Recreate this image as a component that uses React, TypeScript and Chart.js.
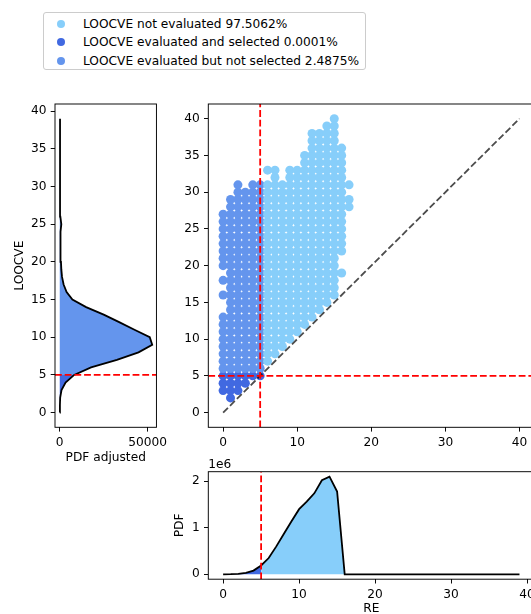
import React, { useEffect, useRef } from 'react';
import { Chart, registerables } from 'chart.js';

Chart.register(...registerables);

const FONT_FAMILY = "'DejaVu Sans', 'Liberation Sans', sans-serif";
const FONT_SIZE = 12.2;

// Colours
const C_NOT_EVAL = '#87CEFA';
const C_SELECTED = '#4169E1';
const C_EVAL = '#6495ED';
const C_THRESH = '#FF0000';
const C_DIAG = 'rgba(0,0,0,0.7)';

const LEGEND_LABELS = [
  'LOOCVE not evaluated 97.5062%',
  'LOOCVE evaluated and selected 0.0001%',
  'LOOCVE evaluated but not selected 2.4875%',
];
const LEGEND_COLORS = [C_NOT_EVAL, C_SELECTED, C_EVAL];

const THRESHOLD = 5;

// Left panel: adjusted PDF of LOOCVE
const LOOCVE_GRID = [
  0, 1, 2, 3, 4, 5, 6, 7, 8, 9, 10, 11, 12, 13, 14, 15, 16, 17, 18, 19,
  20, 21, 22, 23, 24, 25, 26, 27, 28, 29, 30, 31, 32, 33, 34, 35, 36, 37, 38, 39,
];
const PDF_ADJUSTED = [
  0, 100, 250, 1000, 3300, 8200, 17800, 32500, 44800, 52600,
  51200, 42500, 33800, 25000, 15000, 7200, 3900, 2200, 1300, 900,
  700, 550, 450, 400, 350, 900, 350, 250, 200, 200,
  180, 180, 160, 160, 150, 150, 150, 150, 150, 150,
];

// Bottom panel: PDF of RE
const RE_GRID = [
  0, 1, 2, 3, 4, 5, 6, 7, 8, 9, 10, 11, 12, 13, 14, 15, 16, 17, 18, 19,
  20, 21, 22, 23, 24, 25, 26, 27, 28, 29, 30, 31, 32, 33, 34, 35, 36, 37, 38, 39,
];
const RE_PDF = [
  0, 2000, 8000, 30000, 80000, 190000, 350000, 600000, 870000, 1140000,
  1400000, 1560000, 1740000, 2020000, 2100000, 1780000, 0, 0, 0, 0,
  0, 0, 0, 0, 0, 0, 0, 0, 0, 0,
  0, 0, 0, 0, 0, 0, 0, 0, 0, 0,
];

// Tick values
const LOOCVE_TICKS = [0, 5, 10, 15, 20, 25, 30, 35, 40];
const PDF_ADJ_TICKS = [0, 50000];
const RE_TICKS = [0, 10, 20, 30, 40];
const PDF_TICKS = [0, 1000000, 2000000];

// Scatter grid runs: [RE, LOOCVE from, LOOCVE to]
const SELECTED_RUNS = [
  [0, 3, 5], [1, 2, 5], [2, 3, 5], [3, 4, 5], [4, 5, 5], [5, 5, 5],
];
const EVAL_RUNS = [
  [0, 6, 13], [0, 16, 16], [0, 18, 18], [0, 20, 27],
  [1, 6, 29], [2, 6, 31], [3, 6, 30], [4, 6, 31], [5, 6, 31],
];
const NOT_EVAL_RUNS = [
  [6, 7, 31], [6, 33, 33], [7, 8, 33], [8, 9, 31], [9, 10, 33], [10, 11, 33],
  [11, 12, 35], [12, 13, 38], [13, 14, 38], [14, 15, 39], [15, 16, 40],
  [16, 19, 19], [16, 22, 36], [17, 28, 29], [17, 31, 31],
];

const DIAGONAL = [0, 40];

// Axis limits
const MAIN_LIM = [-2, 42];
const LEFT_Y_LIM = [-1.95, 40.95];
const LEFT_X_LIM = [-2700, 55000];
const BOTTOM_X_LIM = [-1.95, 40.95];
const BOTTOM_Y_LIM = [-105000, 2205000];

function expandRuns(runs: number[][]) {
  const pts: { x: number; y: number }[] = [];
  runs.forEach(([x, a, b]) => {
    for (let y = a; y <= b; y++) pts.push({ x, y });
  });
  return pts;
}

const font = { family: FONT_FAMILY, size: FONT_SIZE };

function axis(o: {
  min: number; max: number; ticks: number[]; size: number;
  fmt?: (v: number) => string; title?: string; titlePad?: any; position: string;
}) {
  return {
    type: 'linear',
    position: o.position,
    min: o.min,
    max: o.max,
    afterFit: (s: any) => {
      if (s.isHorizontal()) s.height = o.size;
      else s.width = o.size;
    },
    afterBuildTicks: (s: any) => {
      s.ticks = o.ticks.map((v) => ({ value: v }));
    },
    grid: {
      display: true,
      drawOnChartArea: false,
      drawTicks: true,
      tickLength: 4.3,
      tickWidth: 0.95,
      tickColor: '#000',
    },
    border: { display: false },
    ticks: {
      color: '#000',
      font,
      padding: 4.3,
      maxRotation: 0,
      minRotation: 0,
      autoSkip: false,
      callback: (v: any) => (o.fmt ? o.fmt(Number(v)) : String(v)),
    },
    title: o.title
      ? { display: true, text: o.title, color: '#000', font, padding: o.titlePad }
      : { display: false },
  };
}

const framePlugin = {
  id: 'frame',
  afterDatasetsDraw(chart: any) {
    const { ctx, chartArea: a } = chart;
    ctx.save();
    ctx.strokeStyle = '#000';
    ctx.lineWidth = 0.95;
    ctx.strokeRect(a.left, a.top, a.right - a.left, a.bottom - a.top);
    ctx.restore();
  },
};

const offsetTextPlugin = {
  id: 'offsetText',
  afterDraw(chart: any, _args: any, opts: any) {
    if (!opts || !opts.text) return;
    const { ctx, chartArea } = chart;
    ctx.save();
    ctx.font = `${FONT_SIZE}px ${FONT_FAMILY}`;
    ctx.fillStyle = '#000';
    ctx.textAlign = 'left';
    ctx.textBaseline = 'alphabetic';
    ctx.fillText(opts.text, chartArea.left, chartArea.top - 3.5);
    ctx.restore();
  },
};

const baseOptions = (padding: any) => ({
  responsive: false,
  animation: false,
  devicePixelRatio: 1,
  events: [],
  layout: { padding },
  plugins: { legend: { display: false }, tooltip: { enabled: false } },
});

const lineDs = (data: any[], color: string, width: number, dash?: number[]) => ({
  data,
  showLine: true,
  borderColor: color,
  borderWidth: width,
  borderDash: dash || [],
  pointRadius: 0,
  fill: false,
  tension: 0,
});

const fillDs = (data: any[], color: string) => ({
  data,
  showLine: true,
  borderColor: 'transparent',
  borderWidth: 0.01,
  backgroundColor: color,
  pointRadius: 0,
  fill: 'origin',
  tension: 0,
});

const DASH = [6.8, 2.9];
const LW = 1.8;

function leftConfig(): any {
  const curve = LOOCVE_GRID.map((y, i) => ({ x: PDF_ADJUSTED[i], y }));
  return {
    type: 'line',
    data: {
      datasets: [
        lineDs([{ x: LEFT_X_LIM[0], y: THRESHOLD }, { x: LEFT_X_LIM[1], y: THRESHOLD }], C_THRESH, LW, DASH),
        lineDs(curve, '#000', LW),
        fillDs(curve.filter((p) => p.y >= THRESHOLD), C_EVAL),
        fillDs(curve.filter((p) => p.y <= THRESHOLD), C_SELECTED),
      ],
    },
    options: {
      ...baseOptions({ left: 0, top: 14, right: 7.7, bottom: 0 }),
      indexAxis: 'y',
      scales: {
        x: axis({ position: 'bottom', min: LEFT_X_LIM[0], max: LEFT_X_LIM[1], ticks: PDF_ADJ_TICKS, size: 42.7, title: 'PDF adjusted', titlePad: { top: 0, bottom: 4.7 } }),
        y: axis({ position: 'left', min: LEFT_Y_LIM[0], max: LEFT_Y_LIM[1], ticks: LOOCVE_TICKS, size: 55, title: 'LOOCVE', titlePad: { top: 12.7, bottom: 0 } }),
      },
    },
    plugins: [framePlugin],
  };
}

function mainConfig(): any {
  const dots = (runs: number[][], color: string) => ({
    data: expandRuns(runs),
    showLine: false,
    pointRadius: 4.5,
    pointBorderWidth: 0,
    pointBackgroundColor: color,
    pointBorderColor: color,
    backgroundColor: color,
  });
  return {
    type: 'scatter',
    data: {
      datasets: [
        lineDs([{ x: THRESHOLD, y: MAIN_LIM[0] }, { x: THRESHOLD, y: MAIN_LIM[1] }], C_THRESH, LW, DASH),
        lineDs([{ x: MAIN_LIM[0], y: THRESHOLD }, { x: MAIN_LIM[1], y: THRESHOLD }], C_THRESH, LW, DASH),
        lineDs(DIAGONAL.map((v) => ({ x: v, y: v })), C_DIAG, LW, DASH),
        dots(NOT_EVAL_RUNS, C_NOT_EVAL),
        dots(EVAL_RUNS, C_EVAL),
        dots(SELECTED_RUNS, C_SELECTED),
      ],
    },
    options: {
      ...baseOptions({ left: 0, top: 14, right: 7.7, bottom: 0 }),
      scales: {
        x: axis({ position: 'bottom', min: MAIN_LIM[0], max: MAIN_LIM[1], ticks: RE_TICKS, size: 32.7 }),
        y: axis({ position: 'left', min: MAIN_LIM[0], max: MAIN_LIM[1], ticks: LOOCVE_TICKS, size: 36.3 }),
      },
    },
    plugins: [framePlugin],
  };
}

function bottomConfig(): any {
  const curve = RE_GRID.map((x, i) => ({ x, y: RE_PDF[i] }));
  return {
    type: 'line',
    data: {
      datasets: [
        lineDs([{ x: THRESHOLD, y: BOTTOM_Y_LIM[0] }, { x: THRESHOLD, y: BOTTOM_Y_LIM[1] }], C_THRESH, LW, DASH),
        lineDs(curve, '#000', LW),
        fillDs(curve.filter((p) => p.x >= THRESHOLD), C_NOT_EVAL),
        fillDs(curve.filter((p) => p.x <= THRESHOLD), C_SELECTED),
      ],
    },
    options: {
      ...baseOptions({ left: 0, top: 16.7, right: 5.7, bottom: 0 }),
      scales: {
        x: axis({ position: 'bottom', min: BOTTOM_X_LIM[0], max: BOTTOM_X_LIM[1], ticks: RE_TICKS, size: 40.8, title: 'RE', titlePad: { top: 0, bottom: 4.2 } }),
        y: axis({ position: 'left', min: BOTTOM_Y_LIM[0], max: BOTTOM_Y_LIM[1], ticks: PDF_TICKS, size: 48.3, fmt: (v) => String(v / 1e6), title: 'PDF', titlePad: { top: 12.7, bottom: 0 } }),
      },
      plugins: {
        legend: { display: false },
        tooltip: { enabled: false },
        offsetText: { text: '1e6' },
      },
    },
    plugins: [framePlugin, offsetTextPlugin],
  };
}

function ChartCanvas(props: { left: number; top: number; width: number; height: number; make: () => any }) {
  const ref = useRef<HTMLCanvasElement>(null);
  useEffect(() => {
    if (!ref.current) return;
    const chart = new Chart(ref.current, props.make());
    return () => chart.destroy();
  }, []);
  return (
    <canvas
      ref={ref}
      width={props.width}
      height={props.height}
      style={{ position: 'absolute', left: props.left, top: props.top, width: props.width, height: props.height }}
    />
  );
}

function Legend() {
  return (
    <div
      style={{
        position: 'absolute', left: 43, top: 12, width: 323, height: 58,
        border: '1px solid #cccccc', borderRadius: 3, boxSizing: 'border-box',
        background: 'rgba(255,255,255,0.8)', fontFamily: FONT_FAMILY, fontSize: FONT_SIZE, color: '#000',
      }}
    >
      {LEGEND_LABELS.map((label, i) => (
        <div
          key={label}
          style={{ position: 'absolute', left: 0, top: 1.8 + i * 18.4, height: 18, display: 'flex', alignItems: 'center', whiteSpace: 'nowrap' }}
        >
          <span style={{ display: 'inline-block', width: 8, height: 8, borderRadius: '50%', background: LEGEND_COLORS[i], marginLeft: 12.5 }} />
          <span style={{ marginLeft: 18.5, lineHeight: '18px' }}>{label}</span>
        </div>
      ))}
    </div>
  );
}

export default function App() {
  return (
    <div style={{ position: 'absolute', left: 0, top: 0, width: 531, height: 614, overflow: 'hidden', background: '#fff' }}>
      <Legend />
      <ChartCanvas left={0} top={90} width={172} height={380} make={leftConfig} />
      <ChartCanvas left={172} top={90} width={370} height={370} make={mainConfig} />
      <ChartCanvas left={160} top={455} width={380} height={165} make={bottomConfig} />
    </div>
  );
}
